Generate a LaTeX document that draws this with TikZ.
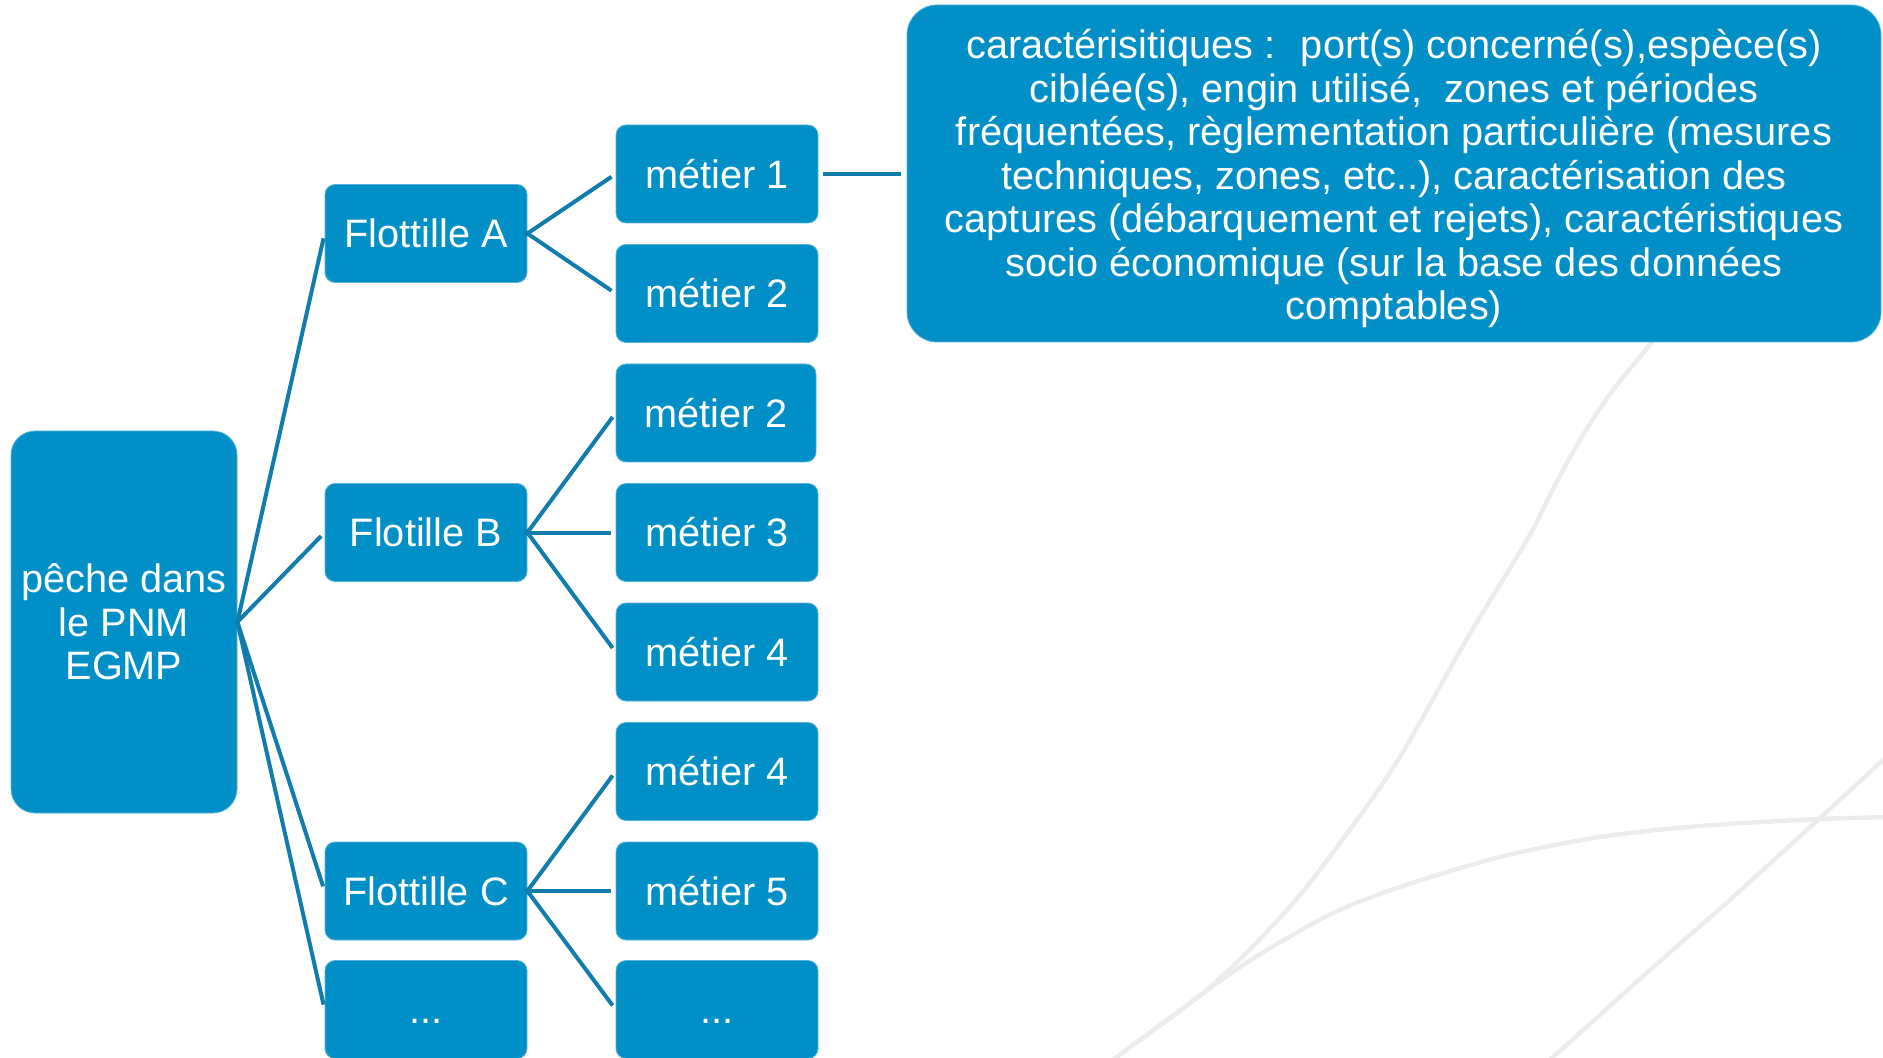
\documentclass[tikz,border=0pt]{standalone}
\usepackage{fontspec}
\setmainfont{Liberation Sans}
\definecolor{boxblue}{RGB}{0,144,199}
\definecolor{lineblue}{RGB}{18,124,172}
\definecolor{bgline}{RGB}{236,236,236}
\definecolor{edgeblue}{RGB}{90,178,216}
\begin{document}
\begin{tikzpicture}[x=0.5pt,y=-0.5pt,
  box/.style={fill=boxblue, draw=edgeblue, line width=0.4pt, rounded corners=5pt, text=white,
    font=\fontsize{19.85}{21.75}\selectfont, align=center, inner sep=0pt},
  cell/.style={box, minimum width=101pt, minimum height=49pt, text height=14.2pt, text depth=0pt},
  conn/.style={draw=lineblue, line width=2pt},
  bg/.style={draw=bgline, line width=2.2pt}]
\useasboundingbox (0,0) rectangle (1883,1058);

% background curves
\draw[bg] plot[smooth, tension=0.55] coordinates {(1100,1072) (1117,1057) (1210,987) (1287,910) (1340,843) (1398,760) (1468,637) (1527,540) (1555,485) (1583,435) (1613,390) (1648,347) (1690,295)};
\draw[bg] plot[smooth, tension=0.5] coordinates {(1100,1072) (1117,1057) (1217,983) (1267,950) (1333,913) (1400,887) (1500,857) (1600,837) (1700,826) (1820,819) (1900,817)};
\draw[bg] plot[smooth, tension=0.5] coordinates {(1530,1075) (1553,1057) (1650,970) (1733,897) (1820,818) (1883,760) (1900,744)};

% nodes
\node[box, rounded corners=12pt, minimum width=113pt, minimum height=191pt] (root) at (124,622) {pêche dans\\le PNM\\EGMP};

\node[cell] (fa) at (426,233.5) {Flottille A};
\node[cell] (fb) at (426,532.5) {Flotille B};
\node[cell] (fc) at (426,891) {Flottille C};
\node[cell] (fd) at (426,1009.5) {...};

\node[cell] (m1) at (717,174) {métier 1};
\node[cell] (m2a) at (717,293.5) {métier 2};
\node[cell, minimum width=100pt] (m2b) at (716,413) {métier 2};
\node[cell] (m3) at (717,532.5) {métier 3};
\node[cell] (m4b) at (717,652) {métier 4};
\node[cell] (m4c) at (717,771.5) {métier 4};
\node[cell] (m5) at (717,891) {métier 5};
\node[cell] (md) at (717,1009.5) {...};

\node[box, rounded corners=15pt, minimum width=487pt, minimum height=168.5pt] (big) at (1394,173.5)
 {\rule{0pt}{20pt}caractérisitiques :~ port(s) concerné(s),espèce(s)\\
  ciblée(s), engin utilisé,~ zones et périodes\\
  fréquentées, règlementation particulière (mesures\\
  techniques, zones, etc..), caractérisation des\\
  captures (débarquement et rejets), caractéristiques\\
  socio économique (sur la base des données\\
  comptables)};

% connectors
\foreach \f in {fa,fb,fc,fd}
  \draw[conn, shorten >=2.5pt] (root.east) -- (\f.west);
\foreach \m in {m1,m2a}
  \draw[conn, shorten <=-1.5pt, shorten >=2.5pt] (fa.east) -- (\m.west);
\foreach \m in {m2b,m3,m4b}
  \draw[conn, shorten <=-1.5pt, shorten >=2.5pt] (fb.east) -- (\m.west);
\foreach \m in {m4c,m5,md}
  \draw[conn, shorten <=-1.5pt, shorten >=2.5pt] (fc.east) -- (\m.west);
\draw[conn, shorten <=2.5pt, shorten >=3pt] (m1.east) -- (m1.east -| big.west);
\end{tikzpicture}
\end{document}
